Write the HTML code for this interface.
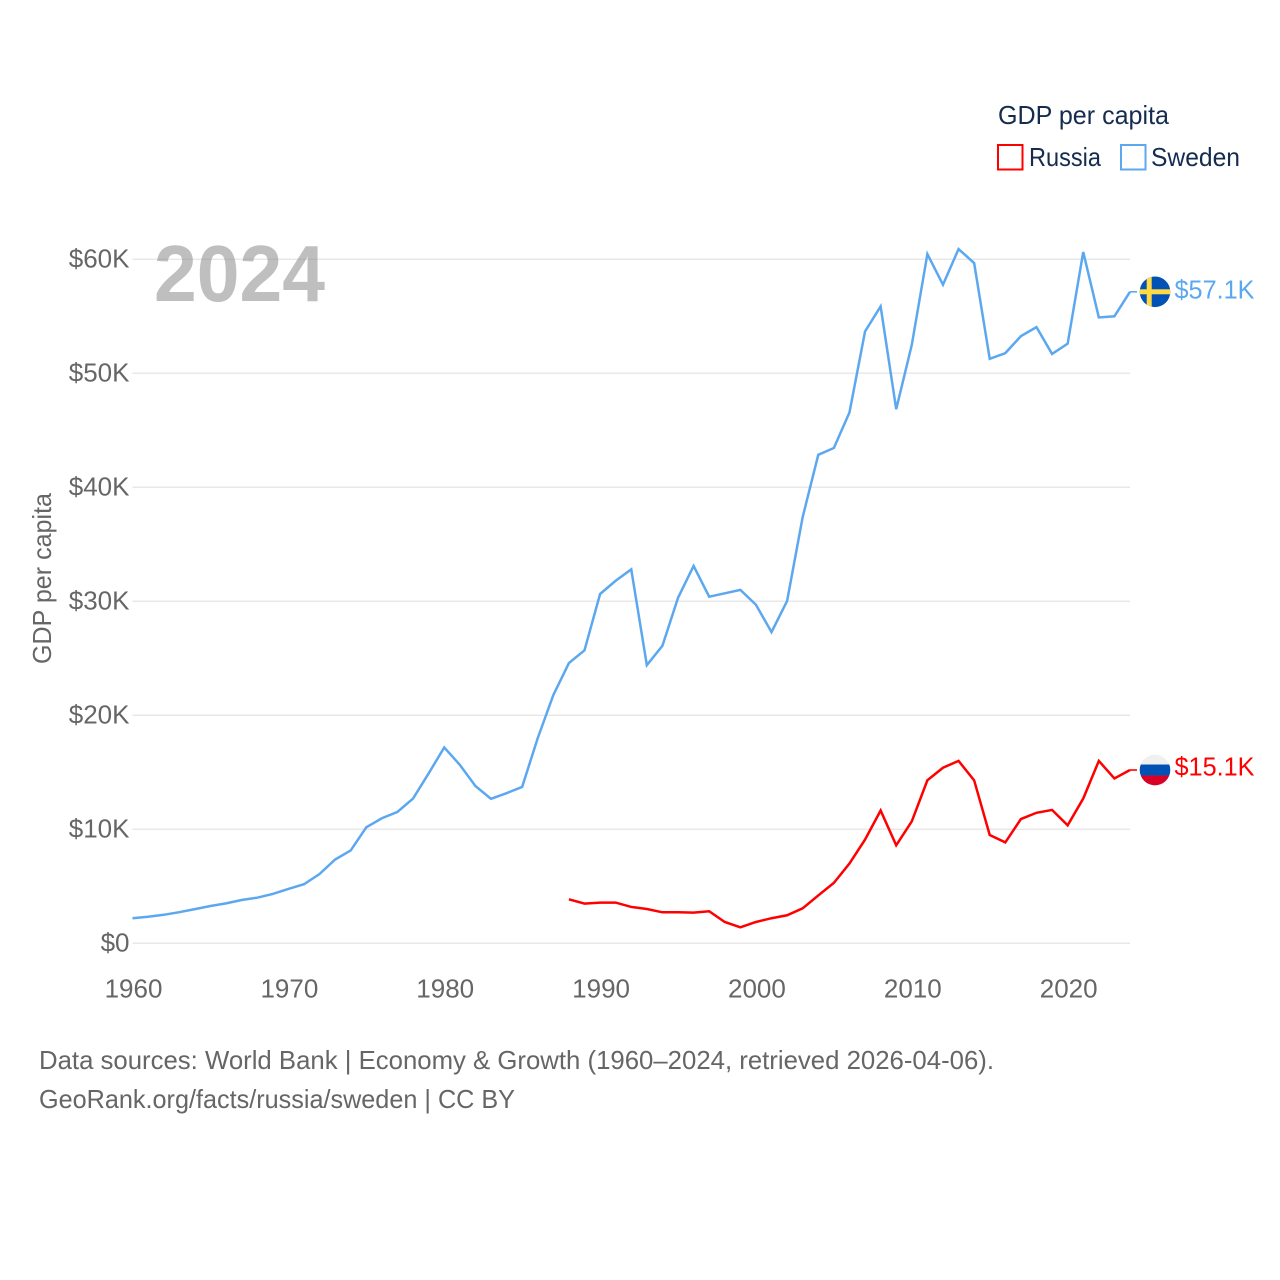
<!DOCTYPE html>
<html lang="en">
<head>
<meta charset="utf-8">
<title>GDP per capita: Russia and Sweden</title>
<style>
  html, body { margin: 0; padding: 0; background: #ffffff; }
  svg { display: block; font-family: "Liberation Sans", sans-serif; }
</style>
</head>
<body>
<svg id="chart" xmlns="http://www.w3.org/2000/svg" width="1280" height="1280" viewBox="0 0 1280 1280">
  <rect x="0" y="0" width="1280" height="1280" fill="#ffffff"/>
  <g id="grid"></g>
  <g id="y-ticks"></g>
  <g id="x-ticks"></g>
  <text transform="translate(51,578.5) rotate(-90)" text-anchor="middle" font-size="26" fill="#666666" textLength="171" lengthAdjust="spacingAndGlyphs">GDP per capita</text>
  <text x="154" y="301" font-size="80" font-weight="700" fill="#808080" fill-opacity="0.5" textLength="171" lengthAdjust="spacingAndGlyphs">2024</text>
  <g id="series"></g>
  <g id="end-markers"></g>

  <g>
    <text x="998" y="124" font-size="26" fill="#152c4f" textLength="171" lengthAdjust="spacingAndGlyphs">GDP per capita</text>
    <g>
      <rect x="998" y="145" width="24.5" height="24.5" fill="none" stroke="#ff0000" stroke-width="2"/>
      <text x="1029" y="166" font-size="26" fill="#152c4f" textLength="72" lengthAdjust="spacingAndGlyphs">Russia</text>
    </g>
    <g>
      <rect x="1121" y="145" width="24.5" height="24.5" fill="none" stroke="#5ca8f0" stroke-width="2"/>
      <text x="1151" y="166" font-size="26" fill="#152c4f" textLength="89" lengthAdjust="spacingAndGlyphs">Sweden</text>
    </g>
  </g>

  <g>
    <text x="39" y="1069" font-size="26" fill="#666666" textLength="955" lengthAdjust="spacingAndGlyphs">Data sources: World Bank | Economy &amp; Growth (1960–2024, retrieved 2026-04-06).</text>
    <text x="39" y="1108" font-size="26" fill="#666666" textLength="476" lengthAdjust="spacingAndGlyphs">GeoRank.org/facts/russia/sweden | CC BY</text>
  </g>
</svg>

<script>
const swedenStartYear = 1960;
const russiaStartYear = 1988;
const swedenValues = [2.2, 2.33, 2.5, 2.73, 3.0, 3.27, 3.5, 3.8, 4.0, 4.33, 4.77, 5.18, 6.08, 7.35, 8.14, 10.18, 10.97, 11.53, 12.7, 14.9, 17.18, 15.66, 13.8, 12.67, 13.17, 13.72, 18.0, 21.77, 24.58, 25.7, 30.64, 31.8, 32.8, 24.4, 26.1, 30.3, 33.1, 30.4, 30.7, 31.0, 29.7, 27.3, 30.03, 37.4, 42.85, 43.45, 46.56, 53.67, 55.87, 46.85, 52.5, 60.46, 57.77, 60.9, 59.67, 51.27, 51.77, 53.26, 54.05, 51.7, 52.6, 60.64, 54.9, 55.0, 57.15];
const russiaValues = [3.86, 3.48, 3.57, 3.57, 3.19, 3.01, 2.72, 2.72, 2.69, 2.81, 1.87, 1.4, 1.87, 2.2, 2.46, 3.07, 4.2, 5.3, 7.0, 9.1, 11.65, 8.6, 10.7, 14.3, 15.4, 16.0, 14.3, 9.5, 8.85, 10.9, 11.45, 11.7, 10.35, 12.7, 16.0, 14.46, 15.2];
const yTickValues = [0, 10, 20, 30, 40, 50, 60];
const yTickLabels = ['$0', '$10K', '$20K', '$30K', '$40K', '$50K', '$60K'];
const xTickYears = [1960, 1970, 1980, 1990, 2000, 2010, 2020];
const endLabels = ['$57.1K', '$15.1K'];

const SVG_NS = 'http://www.w3.org/2000/svg';
const plot = { left: 132.5, right: 1130, bottom: 943.3, pxPerK: 11.4, firstYear: 1960, lastYear: 2024 };
const xScale = function (year) {
  return plot.left + (year - plot.firstYear) * (plot.right - plot.left) / (plot.lastYear - plot.firstYear);
};
const yScale = function (value) {
  return plot.bottom - value * plot.pxPerK;
};
const make = function (tag, attrs, parent) {
  const node = document.createElementNS(SVG_NS, tag);
  Object.keys(attrs).forEach(function (key) { node.setAttribute(key, attrs[key]); });
  parent.appendChild(node);
  return node;
};

const gridGroup = document.getElementById('grid');
const yTickGroup = document.getElementById('y-ticks');
yTickValues.forEach(function (value, i) {
  const line = make('line', { x1: plot.left, x2: plot.right, y1: yScale(value), y2: yScale(value), stroke: '#e8e8e8', 'stroke-width': 1.5 }, gridGroup);
  
  
  const label = make('text', { x: 129.5, y: yScale(value) + 8, 'text-anchor': 'end', 'font-size': 26, fill: '#666666' }, yTickGroup);
  
  
  label.textContent = yTickLabels[i];
});

const xTickGroup = document.getElementById('x-ticks');
xTickYears.forEach(function (year) {
  const label = make('text', { x: xScale(year) + 1, y: 997.5, 'text-anchor': 'middle', 'font-size': 26, fill: '#666666' }, xTickGroup);
  
  
  label.textContent = String(year);
});

const seriesGroup = document.getElementById('series');
const buildPoints = function (values, startYear) {
  return values.map(function (value, i) {
    return xScale(startYear + i).toFixed(2) + ',' + yScale(value).toFixed(2);
  }).join(' ');
};

const swedenLine = make('polyline', { points: buildPoints(swedenValues, swedenStartYear), fill: 'none', stroke: '#5ca8f0', 'stroke-width': 2.5, 'stroke-linejoin': 'miter' }, seriesGroup);



const russiaLine = make('polyline', { points: buildPoints(russiaValues, russiaStartYear), fill: 'none', stroke: '#ff0000', 'stroke-width': 2.5, 'stroke-linejoin': 'miter' }, seriesGroup);



const endGroup = document.getElementById('end-markers');
const flagX = 1155;
const flagR = 15.3;

/* Sweden end marker */
const swedenY = yScale(swedenValues[swedenValues.length - 1]);
const swedenStub = make('line', { x1: plot.right, x2: 1137, y1: swedenY, y2: swedenY, stroke: '#5ca8f0', 'stroke-width': 1.6 }, endGroup);


const swedenFlag = make('g', {}, endGroup);


make('clipPath', { id: 'clip-sweden' }, swedenFlag).appendChild(document.createElementNS(SVG_NS, 'circle'));
const swedenClip = swedenFlag.querySelector('circle');
swedenClip.setAttribute('cx', flagX);
swedenClip.setAttribute('cy', swedenY);
swedenClip.setAttribute('r', flagR);
const swedenBody = make('g', { 'clip-path': 'url(#clip-sweden)' }, swedenFlag);
make('rect', { x: flagX - 16, y: swedenY - 16, width: 32, height: 32, fill: '#0052b4' }, swedenBody);
make('rect', { x: flagX - 16, y: swedenY - 2.5, width: 32, height: 5, fill: '#ffda44' }, swedenBody);
make('rect', { x: flagX - 8.3, y: swedenY - 16, width: 5, height: 32, fill: '#ffda44' }, swedenBody);
const swedenValueLabel = make('text', { x: 1174.5, y: swedenY + 6.5, 'font-size': 26, fill: '#5ca8f0', textLength: 80, lengthAdjust: 'spacingAndGlyphs' }, endGroup);


swedenValueLabel.textContent = endLabels[0];

/* Russia end marker */
const russiaY = yScale(russiaValues[russiaValues.length - 1]);
const russiaStub = make('line', { x1: plot.right, x2: 1137, y1: russiaY, y2: russiaY, stroke: '#ff0000', 'stroke-width': 1.6 }, endGroup);


const russiaFlag = make('g', {}, endGroup);


make('clipPath', { id: 'clip-russia' }, russiaFlag).appendChild(document.createElementNS(SVG_NS, 'circle'));
const russiaClip = russiaFlag.querySelector('circle');
russiaClip.setAttribute('cx', flagX);
russiaClip.setAttribute('cy', russiaY);
russiaClip.setAttribute('r', flagR);
const russiaBody = make('g', { 'clip-path': 'url(#clip-russia)' }, russiaFlag);
make('rect', { x: flagX - 16, y: russiaY - 16, width: 32, height: 11, fill: '#f0f0f0' }, russiaBody);
make('rect', { x: flagX - 16, y: russiaY - 5.5, width: 32, height: 11, fill: '#0052b4' }, russiaBody);
make('rect', { x: flagX - 16, y: russiaY + 5.5, width: 32, height: 11, fill: '#d80027' }, russiaBody);
const russiaValueLabel = make('text', { x: 1174.5, y: russiaY + 5.5, 'font-size': 26, fill: '#ff0000', textLength: 80, lengthAdjust: 'spacingAndGlyphs' }, endGroup);


russiaValueLabel.textContent = endLabels[1];
</script>
</body>
</html>
